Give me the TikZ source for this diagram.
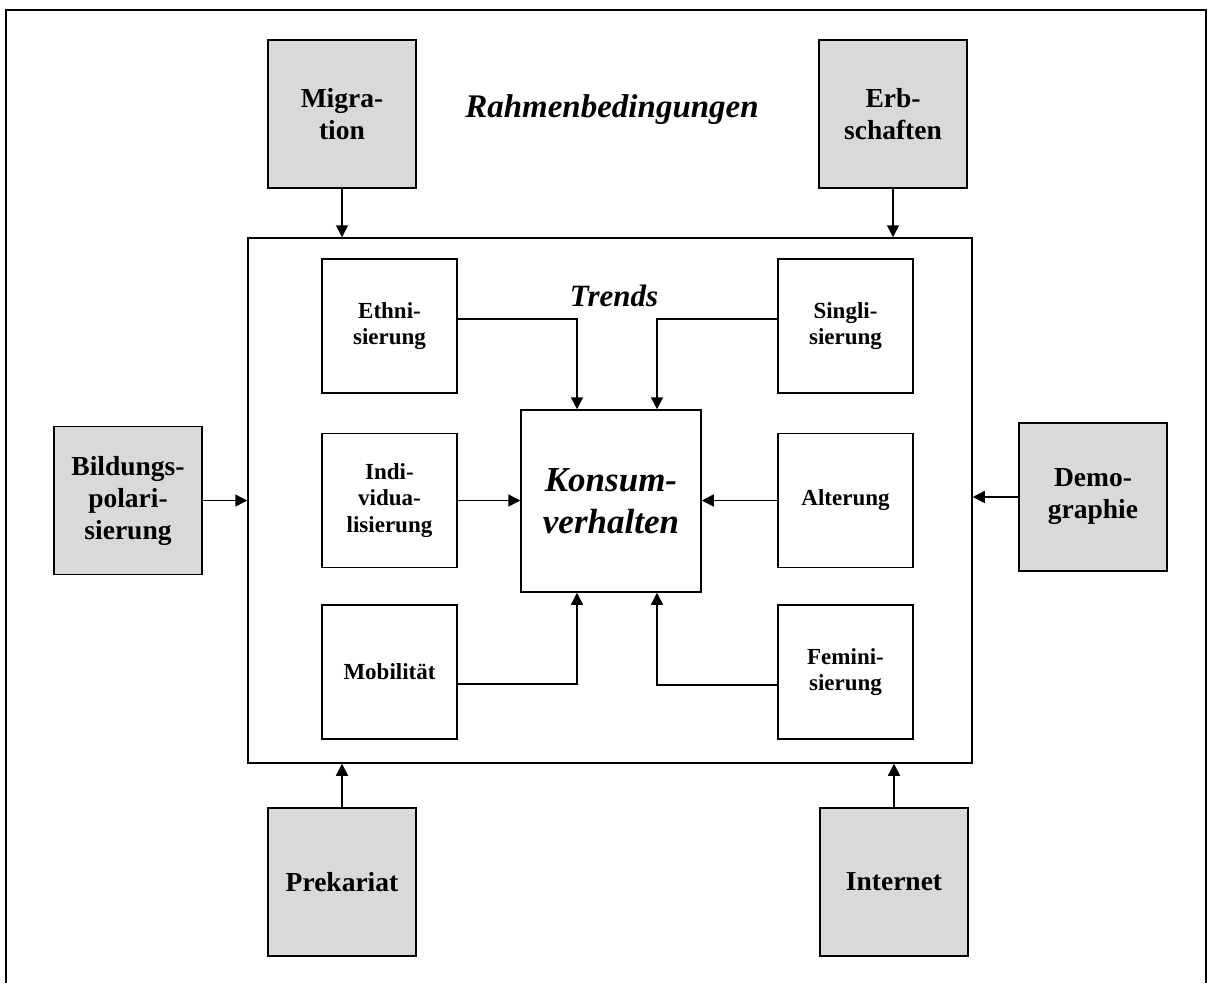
\documentclass[tikz,border=0pt]{standalone}
\usepackage{fontspec}
\setmainfont{Liberation Serif}
\usetikzlibrary{arrows.meta}
\definecolor{boxgrey}{HTML}{D9D9D9}
\begin{document}
\begin{tikzpicture}[x=1pt,y=-1pt,
  lw/.style={line width=1.5pt},
  outerbox/.style={draw, lw, fill=boxgrey, minimum width=148pt,
    minimum height=148pt, inner sep=0pt, align=center,
    font=\bfseries\fontsize{27.5}{32}\selectfont},
  trendbox/.style={draw, lw, fill=white, minimum width=135pt,
    minimum height=134pt, inner sep=0pt, align=center,
    font=\bfseries\fontsize{23}{26.5}\selectfont},
  flow/.style={lw, -{Triangle[length=12pt,width=12pt]}},
  heading/.style={anchor=base, inner sep=0pt, font=\bfseries\itshape\fontsize{#1}{#1}\selectfont}
]
\useasboundingbox (0,0) rectangle (1212,983);

% open outer frame
\draw[lw] (6,983) -- (6,10) -- (1206,10) -- (1206,983);

% frame around the trends
\node[draw, lw, minimum width=724pt, minimum height=525pt, inner sep=0pt]
  (frame) at (610,500.5) {};

% headings
\node[heading=33] (rahmen) at (612,117) {Rahmenbedingungen};
\node[heading=31] (trendlabel) at (614,306) {Trends};

% outer conditions
\node[outerbox] (migration) at (342,114) {Migra-\\tion};
\node[outerbox] (erbschaft) at (893,114) {Erb-\\schaften};
\node[outerbox] (bildung) at (128,500.5) {Bildungs-\\polari-\\sierung};
\node[outerbox] (demo) at (1093,497) {Demo-\\graphie};
\node[outerbox] (prekariat) at (342,882) {Prekariat};
\node[outerbox] (internet) at (894,882) {Internet};

% trends
\node[trendbox] (ethni) at (389.5,326) {Ethni-\\sierung};
\node[trendbox] (indi) at (389.5,500.5) {Indi-\\vidua-\\lisierung};
\node[trendbox] (mobil) at (389.5,672) {Mobilität};
\node[trendbox] (singli) at (845.5,326) {Singli-\\sierung};
\node[trendbox] (alter) at (845.5,500.5) {Alterung};
\node[trendbox] (femini) at (845.5,672) {Femini-\\sierung};

% centre
\node[draw, lw, minimum width=180pt, minimum height=182pt, inner sep=0pt,
  align=center, font=\bfseries\itshape\fontsize{35}{42}\selectfont]
  (konsum) at (611,501) {Konsum-\\verhalten};

% trends into the centre
\draw[flow] ([yshift=7pt]ethni.east) -| ([xshift=-34pt]konsum.north);
\draw[flow] ([yshift=7pt]singli.west) -| ([xshift=46pt]konsum.north);
\draw[flow] (indi.east) -- (indi.east -| konsum.west);
\draw[flow] (alter.west) -- (alter.west -| konsum.east);
\draw[flow] ([yshift=-12pt]mobil.east) -| ([xshift=-34pt]konsum.south);
\draw[flow] ([yshift=-13pt]femini.west) -| ([xshift=46pt]konsum.south);

% conditions onto the frame
\draw[flow] (migration.south) -- (migration.south |- frame.north);
\draw[flow] (erbschaft.south) -- (erbschaft.south |- frame.north);
\draw[flow] (bildung.east) -- (bildung.east -| frame.west);
\draw[flow] (demo.west) -- (demo.west -| frame.east);
\draw[flow] (prekariat.north) -- (prekariat.north |- frame.south);
\draw[flow] (internet.north) -- (internet.north |- frame.south);
\end{tikzpicture}
\end{document}
